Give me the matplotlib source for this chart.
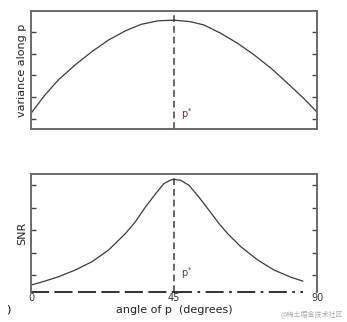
import matplotlib.pyplot as plt

plt.rcParams['font.family'] = ['DejaVu Sans', 'Noto Sans CJK SC']

# top panel: variance along p vs angle
var_angle = [0, 4.4, 8.6, 13.9, 19.2, 24.4, 29.7, 34.7, 40, 45,
             50.2, 54.4, 59.7, 65, 70.2, 75.5, 80.7, 86, 90]
var_vals = [1.26, 2.1, 2.79, 3.48, 4.09, 4.62, 5.04, 5.34, 5.5, 5.53,
            5.46, 5.31, 4.93, 4.47, 3.94, 3.33, 2.64, 1.92, 1.31]

# bottom panel: SNR vs angle
snr_angle = [0.2, 4.4, 8.6, 13.9, 19.2, 24.4, 29.7, 32.8, 36, 39.2, 41.8, 43.9, 45,
             47.1, 49.7, 52.8, 56, 59.2, 61.8, 66, 71.3, 76.5, 81.8, 85.5]
snr_vals = [0.56, 0.73, 0.92, 1.22, 1.59, 2.11, 2.84, 3.36, 4.02, 4.61, 5.06, 5.22, 5.25,
            5.21, 4.99, 4.47, 3.88, 3.28, 2.85, 2.26, 1.67, 1.22, 0.9, 0.73]

x_ticks = [0, 45, 90]
x_ticklabels = ['0', '45', '90']
y_ticks = [1, 2, 3, 4, 5]
p_star = 45

fig = plt.figure(figsize=(3.47, 3.22), dpi=100)
ax1 = fig.add_axes([31 / 347, 1 - 129 / 322, 286 / 347, 118 / 322])
ax2 = fig.add_axes([31 / 347, 1 - 292 / 322, 286 / 347, 118 / 322])

spine_col = '#6a6a6a'
line_col = '#3a3a3a'

for ax in (ax1, ax2):
    ax.set_xlim(0, 90)
    ax.set_yticks(y_ticks)
    ax.set_yticklabels([])
    ax.tick_params(axis='y', direction='in', length=3.5, width=1.0,
                   color='#444444', left=True, right=True)
    for s in ax.spines.values():
        s.set_color(spine_col)
        s.set_linewidth(1.4)
    ax.axvline(p_star, color='#666666', lw=1.4, ls=(0, (3.5, 2)))

# top
ax1.plot(var_angle, var_vals, color=line_col, lw=0.9)
ax1.set_ylim(0.54, 5.95)
ax1.set_xticks([])
ax1.set_ylabel('variance along p', fontsize=8, labelpad=-0.5, color='#222222')
ax1.text(47.3, 1.05, 'p$^{*}$', fontsize=7, color='#5a3030')

# bottom
ax2.plot(snr_angle, snr_vals, color=line_col, lw=0.9)
ax2.set_ylim(0.244, 5.49)
ax2.set_xticks(x_ticks)
ax2.set_xticklabels(x_ticklabels, fontsize=7, color='#333333')
ax2.tick_params(axis='x', length=0, pad=1)
ax2.set_ylabel('SNR', fontsize=8, labelpad=-0.5, color='#222222')
ax2.set_xlabel('angle of p  (degrees)', fontsize=8, labelpad=1, color='#222222')
ax2.text(47.2, 0.9, 'p$^{*}$', fontsize=7, color='#444444')

# dashed bottom edge
ax2.spines['bottom'].set_visible(False)
ax2.axhline(0.244, xmin=0, xmax=0.5, color='#222222', lw=1.3,
            ls=(0, (10, 3)), clip_on=False)
ax2.axhline(0.244, xmin=0.5, xmax=0.95, color='#222222', lw=1.3,
            ls=(0, (10, 3, 1.5, 3)), clip_on=False)

fig.text(8 / 347, 1 - 310 / 322, ')', fontsize=8, ha='center', va='center')
fig.text(312 / 347, 1 - 315 / 322, '@稀土掘金技术社区', fontsize=5,
         color='#aaaaaa', ha='center', va='center',
         family=['Noto Sans CJK SC', 'DejaVu Sans'])

fig.savefig('out.png', dpi=100)
